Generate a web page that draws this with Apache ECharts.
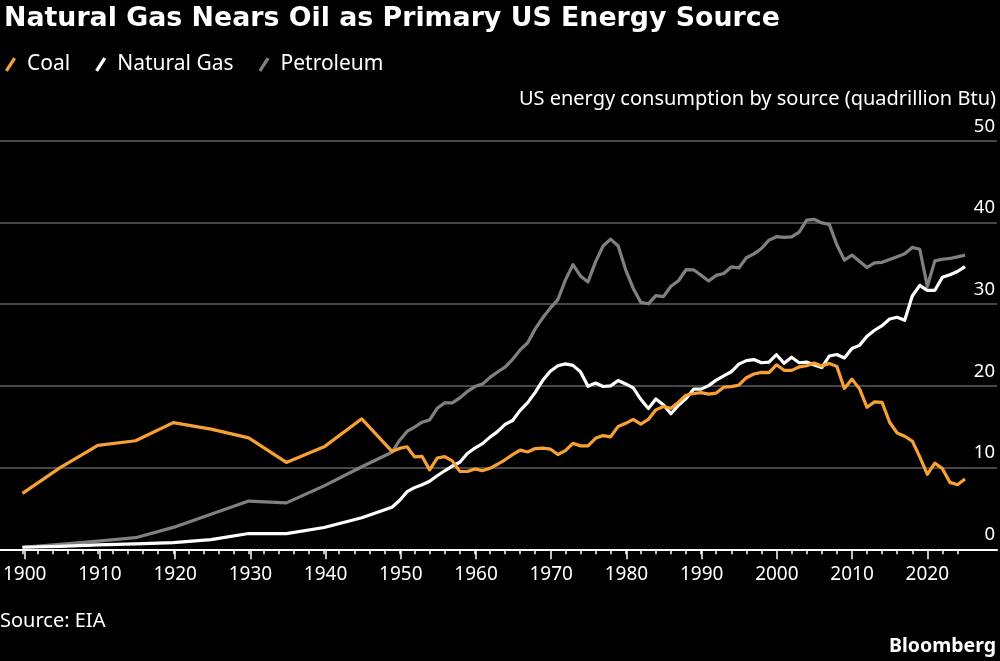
<!DOCTYPE html>
<html>
<head>
<meta charset="utf-8">
<script src="https://cdn.jsdelivr.net/npm/echarts@6/dist/echarts.min.js"></script>
<style>
html,body{margin:0;padding:0;background:#000;}
#chart{width:1000px;height:661px;}
</style>
</head>
<body>
<div id="chart"></div>
<script>
// ---- Data (quadrillion Btu) ----
const years = [1900,1905,1910,1915,1920,1925,1930,1935,1940,1945,
  1949,1950,1951,1952,1953,1954,1955,1956,1957,1958,1959,
  1960,1961,1962,1963,1964,1965,1966,1967,1968,1969,
  1970,1971,1972,1973,1974,1975,1976,1977,1978,1979,
  1980,1981,1982,1983,1984,1985,1986,1987,1988,1989,
  1990,1991,1992,1993,1994,1995,1996,1997,1998,1999,
  2000,2001,2002,2003,2004,2005,2006,2007,2008,2009,
  2010,2011,2012,2013,2014,2015,2016,2017,2018,2019,
  2020,2021,2022,2023,2024,2025];

const coal = [6.84,10.00,12.71,13.29,15.50,14.71,13.64,10.63,12.54,15.97,
  11.98,12.35,12.55,11.31,11.37,9.72,11.17,11.35,10.82,9.53,9.52,
  9.84,9.62,9.91,10.41,10.96,11.58,12.14,11.91,12.33,12.38,
  12.27,11.60,12.08,12.97,12.66,12.66,13.58,13.92,13.77,15.04,
  15.42,15.91,15.32,15.89,17.07,17.48,17.26,18.01,18.85,19.07,
  19.17,18.99,19.12,19.84,19.91,20.09,21.00,21.45,21.66,21.62,
  22.58,21.91,21.90,22.32,22.47,22.80,22.45,22.75,22.39,19.69,
  20.83,19.66,17.38,18.04,17.99,15.55,14.23,13.84,13.25,11.32,
  9.18,10.55,9.87,8.19,7.90,8.60];

const naturalGas = [0.25,0.37,0.54,0.67,0.81,1.19,1.93,1.92,2.67,3.87,
  5.15,5.97,7.05,7.55,7.91,8.33,9.00,9.61,10.19,10.66,11.72,
  12.39,12.93,13.73,14.40,15.29,15.77,17.00,17.95,19.21,20.68,
  21.80,22.47,22.70,22.51,21.73,19.95,20.35,19.93,20.00,20.67,
  20.24,19.75,18.36,17.22,18.39,17.70,16.59,17.64,18.45,19.60,
  19.60,20.03,20.71,21.23,21.73,22.67,23.09,23.22,22.83,22.91,
  23.82,22.77,23.51,22.83,22.92,22.57,22.24,23.66,23.84,23.42,
  24.58,24.96,26.09,26.81,27.38,28.19,28.40,28.03,31.00,32.30,
  31.70,31.70,33.30,33.60,34.00,34.60];

const petroleum = [0.23,0.61,1.01,1.42,2.68,4.28,5.90,5.68,7.76,10.11,
  11.88,13.32,14.43,14.96,15.56,15.84,17.26,17.94,17.93,18.53,19.32,
  19.92,20.22,21.05,21.70,22.30,23.25,24.40,25.28,26.98,28.34,
  29.52,30.56,32.95,34.84,33.46,32.73,35.18,37.12,37.97,37.12,
  34.20,31.93,30.23,30.05,31.05,30.92,32.20,32.87,34.22,34.21,
  33.55,32.85,33.53,33.75,34.56,34.44,35.68,36.16,36.82,37.84,
  38.26,38.19,38.23,38.81,40.29,40.39,39.96,39.77,37.28,35.40,
  36.01,35.26,34.50,35.06,35.12,35.47,35.81,36.17,36.95,36.72,
  32.19,35.30,35.50,35.60,35.80,36.00];

const seriesNames = ['Coal','Natural Gas','Petroleum'];
const seriesColors = ['#F7A134','#FFFFFF','#808080'];
const yTicks = [0,10,20,30,40,50];

const titleText = 'Natural Gas Nears Oil as Primary US Energy Source';
const subtitleText = 'US energy consumption by source (quadrillion Btu)';
const sourceText = 'Source: EIA';
const brandText = 'Bloomberg';

function pairs(vals){ return years.map((y,i)=>[y, vals[i]]); }

const FONT = '"Noto Sans", "DejaVu Sans", sans-serif';
const TITLE_FONT = '"DejaVu Sans", sans-serif';
const TOP = 140.8, BOTTOM = 111.7;

const chart = echarts.init(document.getElementById('chart'), null, {renderer:'canvas'});
const iconPath = 'path://M0,14 L9,0 L12,2 L3,16 Z';

chart.setOption({
  backgroundColor: '#000',
  animation: false,
  title: {
    text: titleText, left: -1, top: 1,
    textStyle: {color:'#fff', fontSize: 26.8, fontWeight: 'bold', fontFamily: TITLE_FONT}
  },
  legend: {
    left: 0, top: 49, itemWidth: 11, itemHeight: 15, itemGap: 25,
    icon: iconPath,
    data: seriesNames,
    textStyle: {color:'#fff', fontSize: 21, fontFamily: FONT, padding:[0,0,0,6]}
  },
  grid: [
    {left: 0, right: 3, top: TOP, bottom: BOTTOM},
    {left: 22.5, width: 935, top: TOP, bottom: BOTTOM},
    {left: 22.5, width: 904.8, top: TOP, bottom: BOTTOM}
  ],
  xAxis: [
    {gridIndex:0, type:'value', min:1897.02, max:2029.24,
     axisLine:{show:true, lineStyle:{color:'#fff', width:2}},
     axisTick:{show:false}, axisLabel:{show:false}, splitLine:{show:false}},
    {gridIndex:1, type:'value', min:1900, max:2024, interval:2,
     axisLine:{show:false},
     axisTick:{show:true, length:5, lineStyle:{color:'#fff', width:1.5}},
     axisLabel:{show:false}, splitLine:{show:false}},
    {gridIndex:2, type:'value', min:1900, max:2020, interval:10,
     axisLine:{show:false},
     axisTick:{show:true, length:10, lineStyle:{color:'#fff', width:1.5}},
     axisLabel:{show:true, color:'#fff', fontSize:19, fontFamily:FONT, margin:16,
       formatter: v => String(v)},
     splitLine:{show:false}}
  ],
  yAxis: [
    {gridIndex:0, type:'value', position:'right', min:yTicks[0], max:yTicks[yTicks.length-1], interval:10,
     axisLine:{show:false}, axisTick:{show:false},
     axisLabel:{show:true, inside:true, margin:2, color:'#fff', fontSize:18.5, fontFamily:FONT,
       verticalAlign:'bottom', padding:[0,0,5,0]},
     splitLine:{show:true, lineStyle:{color:'#5f5f5f', width:1.5}}},
    {gridIndex:1, type:'value', min:0, max:50, show:false},
    {gridIndex:2, type:'value', min:0, max:50, show:false}
  ],
  graphic: [
    {type:'text', right: 4, top: 89,
     style:{text: subtitleText, fill:'#fff', font:'20px ' + FONT, textAlign:'right'}},
    {type:'text', left: 0, top: 611,
     style:{text: sourceText, fill:'#fff', font:'20px ' + FONT}},
    {type:'text', right: 4, top: 636,
     style:{text: brandText, fill:'#fff', font:'bold 19.5px ' + FONT, textAlign:'right'}}
  ],
  series: [coal, naturalGas, petroleum].map((vals, i) => ({
    name: seriesNames[i], type:'line', xAxisIndex:0, yAxisIndex:0,
    data: pairs(vals), showSymbol:false, symbol:'none',
    z: 3 - i,
    lineStyle:{color: seriesColors[i], width:3.2, join:'round'},
    itemStyle:{color: seriesColors[i]}
  }))
});
</script>
</body>
</html>
